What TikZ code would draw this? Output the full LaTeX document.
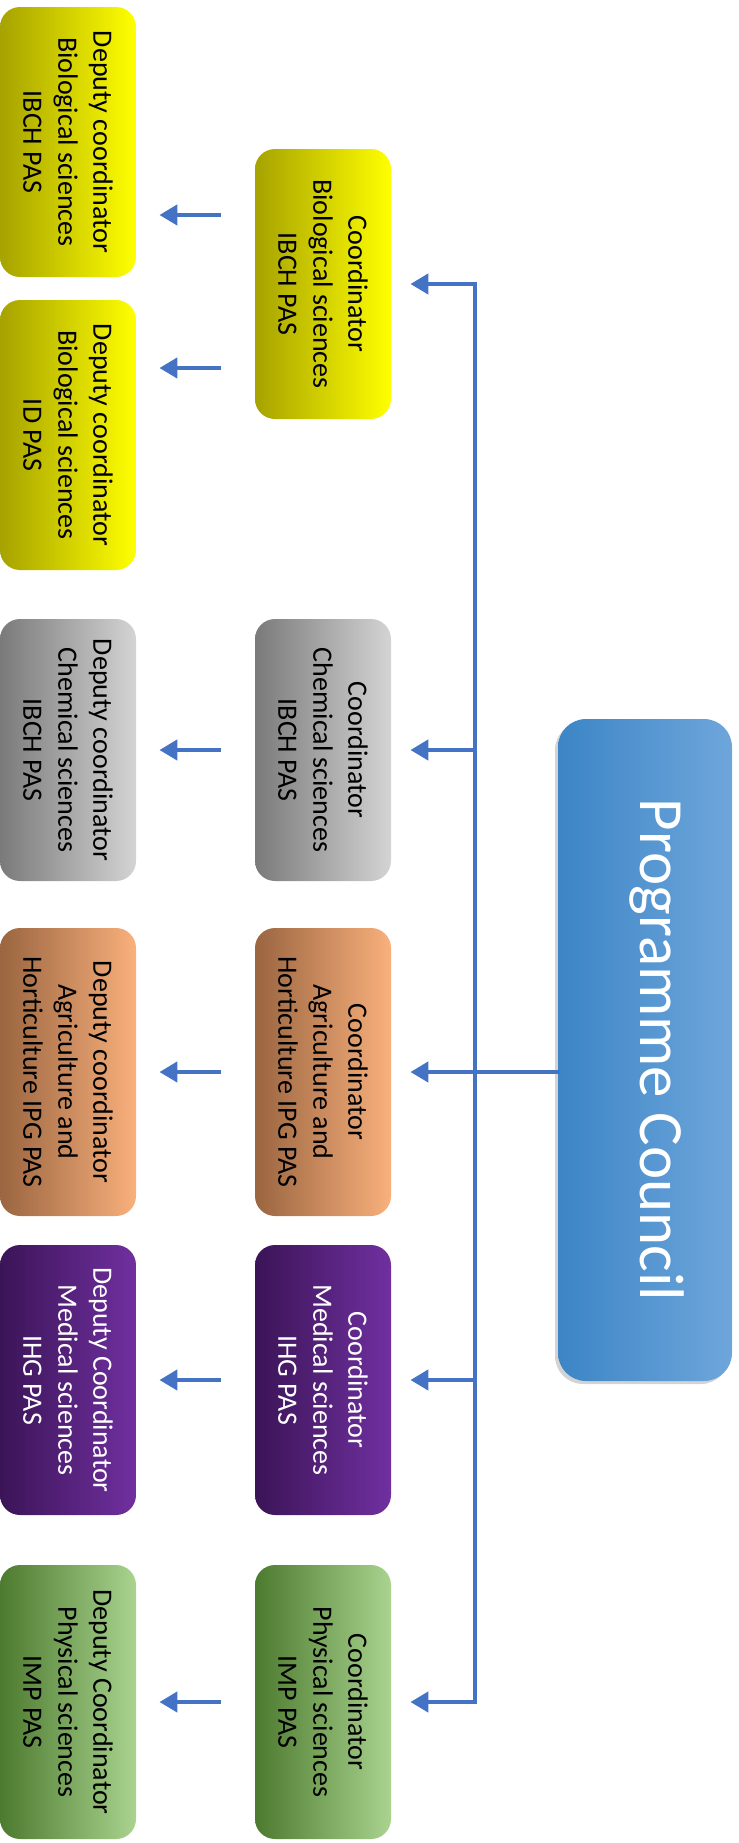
\documentclass[tikz,border=0pt]{standalone}
\usepackage{fontspec}
\setmainfont{Carlito}
\usetikzlibrary{arrows.meta,shadows}
\definecolor{yelDark}{HTML}{A6A200}
\definecolor{yelMid}{HTML}{EAE800}
\definecolor{yelLight}{HTML}{FFFF00}
\definecolor{greyDark}{HTML}{7A7A7A}
\definecolor{greyLight}{HTML}{D4D4D4}
\definecolor{orangeDark}{HTML}{9A6540}
\definecolor{orangeLight}{HTML}{F9B07C}
\definecolor{purpleDark}{HTML}{3B1457}
\definecolor{purpleLight}{HTML}{7030A0}
\definecolor{greenDark}{HTML}{4C7A2E}
\definecolor{greenLight}{HTML}{A9D38F}
\definecolor{blueDark}{HTML}{3C85C6}
\definecolor{blueLight}{HTML}{6EA6DB}
\definecolor{arrowBlue}{HTML}{4472C4}
\tikzstyle{boxStyle}=[shape = rectangle, rounded corners = 10pt, rotate = -90, align = center, inner sep = 2pt, minimum width = 135pt, minimum height = 68pt, font = \fontsize{14}{17.5}\selectfont]
\tikzstyle{yellowBox}=[boxStyle, left color = yelDark, middle color = yelMid, right color = yelLight]
\tikzstyle{greyBox}=[boxStyle, left color = greyDark, right color = greyLight]
\tikzstyle{orangeBox}=[boxStyle, left color = orangeDark, right color = orangeLight, minimum width = 144pt]
\tikzstyle{purpleBox}=[boxStyle, left color = purpleDark, right color = purpleLight, text = white]
\tikzstyle{greenBox}=[boxStyle, left color = greenDark, right color = greenLight]

\begin{document}
\begin{tikzpicture}[x = 0.5pt, y = -0.5pt]
\tikzstyle{lineStyle} = [draw = arrowBlue, line width = 2.2pt, line cap = rect]
\tikzstyle{arrowStyle} = [draw = arrowBlue, line width = 2.2pt, -{Triangle[length = 9pt, width = 10pt]}]
\tikzstyle{downStyle} = [arrowStyle, shorten < = 17pt, shorten > = 11.5pt]
\tikzstyle{councilStyle} = [shape = rectangle, rounded corners = 14pt, rotate = -90, left color = blueDark, right color = blueLight, text = white, minimum width = 331pt, minimum height = 87pt, text height = 25pt, text depth = 20pt, font = \fontsize{31.5}{36}\selectfont, drop shadow = {shadow xshift = -1.5pt, shadow yshift = -1.5pt, opacity = 0.35}]
\useasboundingbox (0,0) rectangle (739,1843);
\node[councilStyle] (pc) at (645,1050) {Programme Council};
\node[yellowBox] (c1) at (323,284) {Coordinator\\Biological sciences\\IBCH PAS};
\node[greyBox, minimum width = 131pt] (c2) at (323,750) {Coordinator\\Chemical sciences\\IBCH PAS};
\node[orangeBox] (c3) at (323,1072) {Coordinator\\Agriculture and\\Horticulture IPG PAS};
\node[purpleBox] (c4) at (323,1380) {Coordinator\\Medical sciences\\IHG PAS};
\node[greenBox, minimum width = 137pt] (c5) at (323,1702) {Coordinator\\Physical sciences\\IMP PAS};
\node[yellowBox] (d1) at (68,142) {Deputy coordinator\\Biological sciences\\IBCH PAS};
\node[yellowBox] (d2) at (68,435) {Deputy coordinator\\Biological sciences\\ID PAS};
\node[greyBox, minimum width = 131pt] (d3) at (68,750) {Deputy coordinator\\Chemical sciences\\IBCH PAS};
\node[orangeBox] (d4) at (68,1072) {Deputy coordinator\\Agriculture and\\Horticulture IPG PAS};
\node[purpleBox] (d5) at (68,1380) {Deputy Coordinator\\Medical sciences\\IHG PAS};
\node[greenBox, minimum width = 137pt] (d6) at (68,1702) {Deputy Coordinator\\Physical sciences\\IMP PAS};
\coordinate (bus) at (475,0);
\coordinate (t1) at (0,215);
\coordinate (t2) at (0,368);
\draw[lineStyle] (bus |- c1) -- (bus |- c5);
\draw[lineStyle] (pc.south |- c3) -- (bus |- c3);
\draw[arrowStyle, shorten > = 9.5pt] (bus |- c1) -- (c1.north);
\draw[arrowStyle, shorten > = 9.5pt] (bus |- c2) -- (c2.north);
\draw[arrowStyle, shorten > = 9.5pt] (bus |- c3) -- (c3.north);
\draw[arrowStyle, shorten > = 9.5pt] (bus |- c4) -- (c4.north);
\draw[arrowStyle, shorten > = 9.5pt] (bus |- c5) -- (c5.north);
\draw[downStyle] (c1.south |- t1) -- (d1.north |- t1);
\draw[downStyle] (c1.south |- t2) -- (d2.north |- t2);
\draw[downStyle] (c2.south) -- (d3.north);
\draw[downStyle] (c3.south) -- (d4.north);
\draw[downStyle] (c4.south) -- (d5.north);
\draw[downStyle] (c5.south) -- (d6.north);
\end{tikzpicture}
\end{document}
